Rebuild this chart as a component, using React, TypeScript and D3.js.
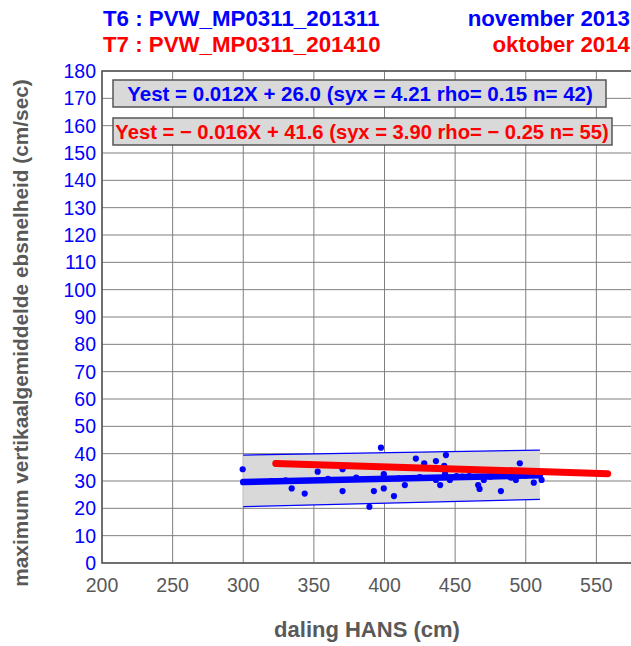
import React from "react";
import * as d3 from "d3";

const xTicks = [200, 250, 300, 350, 400, 450, 500, 550, 600];
const yTicks = [0, 10, 20, 30, 40, 50, 60, 70, 80, 90, 100, 110, 120, 130, 140, 150, 160, 170, 180];

// T6 measurements (blue points)
const t6X = [299.6, 334.3, 343.5, 352.7, 370.3, 397.5, 370.3, 392.5, 399.5, 389.3, 399.5, 422.2, 428.1, 436.4, 443.5, 442.3, 414.4, 406.7, 436.4, 439.4, 442.9, 446.3, 466.3, 467.3, 470.3, 482.4, 495.8, 489.5, 493, 505.7, 511.2, 451, 320, 360, 380, 410, 425, 455, 460, 475, 500, 330];
const t6Y = [34.3, 27.3, 25.4, 33.4, 34.3, 42.2, 26.3, 26.3, 27.3, 20.5, 32.5, 38.2, 36.5, 37.3, 39.5, 35.5, 28.5, 24.5, 30.4, 28.5, 32.6, 30.4, 28.5, 27.1, 30.4, 26.3, 36.5, 31.2, 30.4, 29.4, 30.4, 31.8, 30.0, 30.8, 31.2, 31.0, 31.4, 31.6, 31.8, 31.6, 32.0, 30.2];

// confidence band of T6 regression
const bandX = [300, 510];
const bandUpper = [39.5, 41.3];
const bandLower = [20.6, 23.3];

// regression lines
const t6Line = { slope: 0.012, intercept: 26.0, xMin: 300, xMax: 510 };
const t7Line = { slope: -0.016, intercept: 41.6, xMin: 323, xMax: 558 };

const header = [
  { left: "T6 : PVW_MP0311_201311", right: "november 2013", color: "#0000ff" },
  { left: "T7 : PVW_MP0311_201410", right: "oktober 2014", color: "#ff0000" },
];
const legendTexts = [
  "Yest = 0.012X + 26.0 (syx = 4.21 rho= 0.15 n= 42)",
  "Yest = \u2212 0.016X + 41.6 (syx = 3.90 rho= \u2212 0.25 n= 55)",
];

const FONT = "'Liberation Sans', Arial, Helvetica, sans-serif";

export default function App() {
  const W = 631, H = 646;
  const left = 102, right = 667, top = 71, bottom = 563;
  const x = d3.scaleLinear().domain([200, 600]).range([left, right]);
  const y = d3.scaleLinear().domain([0, 180]).range([bottom, top]);

  const bandPts: [number, number][] = [
    ...bandX.map((v, i) => [x(v), y(bandUpper[i])] as [number, number]),
    ...bandX.slice().reverse().map((v, i) => [x(v), y(bandLower[bandX.length - 1 - i])] as [number, number]),
  ];
  const lineGen = d3.line<[number, number]>().x(d => x(d[0])).y(d => y(d[1]));
  const regPts = (l: typeof t6Line): [number, number][] => [
    [l.xMin, l.slope * l.xMin + l.intercept],
    [l.xMax, l.slope * l.xMax + l.intercept],
  ];

  return (
    <svg width={W} height={H} style={{ position: "absolute", left: 0, top: 0, fontFamily: FONT }}>
      <rect x={0} y={0} width={W} height={H} fill="#fff" />
      {/* grid */}
      {xTicks.map(t => (
        <line key={"gx" + t} x1={x(t)} x2={x(t)} y1={top} y2={bottom} stroke="#7f7f7f" strokeWidth={1} />
      ))}
      {yTicks.map(t => (
        <line key={"gy" + t} x1={left} x2={right} y1={y(t)} y2={y(t)} stroke="#7f7f7f" strokeWidth={1} />
      ))}
      <rect x={left} y={top} width={right - left} height={bottom - top} fill="none" stroke="#555" strokeWidth={1.5} />

      {/* band */}
      <polygon points={bandPts.map(p => p.join(",")).join(" ")} fill="#d9d9d9" />
      <path d={lineGen(bandX.map((v, i) => [v, bandUpper[i]] as [number, number])) || ""} stroke="#0000ff" strokeWidth={1.2} fill="none" />
      <path d={lineGen(bandX.map((v, i) => [v, bandLower[i]] as [number, number])) || ""} stroke="#0000ff" strokeWidth={1.2} fill="none" />

      {/* points */}
      {t6X.map((v, i) => (
        <circle key={"p" + i} cx={x(v)} cy={y(t6Y[i])} r={3.1} fill="#0000ff" />
      ))}

      {/* regression lines */}
      <path d={lineGen(regPts(t6Line)) || ""} stroke="#0000ff" strokeWidth={6.5} strokeLinecap="round" fill="none" />
      <path d={lineGen(regPts(t7Line)) || ""} stroke="#ff0000" strokeWidth={7} strokeLinecap="round" fill="none" />

      {/* legend boxes */}
      <rect x={113} y={80} width={493} height={27} fill="#d9d9d9" stroke="#555" strokeWidth={1.5} />
      <text x={360} y={101} textAnchor="middle" fontSize={20.5} fontWeight="bold" fill="#0000ff">{legendTexts[0]}</text>
      <rect x={113} y={118} width={499} height={27} fill="#d9d9d9" stroke="#555" strokeWidth={1.5} />
      <text x={362} y={139} textAnchor="middle" fontSize={20.2} fontWeight="bold" fill="#ff0000">{legendTexts[1]}</text>

      {/* y tick labels */}
      {yTicks.map(t => (
        <text key={"ty" + t} x={96} y={y(t) + 7} textAnchor="end" fontSize={19.5} fill="#0000ff">{t}</text>
      ))}
      {/* x tick labels (only those inside the window) */}
      {xTicks.filter(t => x(t) + 20 < W).map(t => (
        <text key={"tx" + t} x={x(t)} y={592} textAnchor="middle" fontSize={19.5} fill="#595959">{t}</text>
      ))}

      {/* axis titles */}
      <text x={367} y={637} textAnchor="middle" fontSize={22} fontWeight="bold" fill="#595959">daling HANS (cm)</text>
      <text transform={`translate(28,333) rotate(-90)`} textAnchor="middle" fontSize={20.8} fontWeight="bold" fill="#595959">
        maximum vertikaalgemiddelde ebsnelheid (cm/sec)
      </text>

      {/* header */}
      {header.map((h, i) => (
        <g key={"h" + i}>
          <text x={103} y={26 + i * 26} fontSize={22.3} fontWeight="bold" fill={h.color}>{h.left}</text>
          <text x={630} y={26 + i * 26} textAnchor="end" fontSize={22.3} fontWeight="bold" fill={h.color}>{h.right}</text>
        </g>
      ))}
    </svg>
  );
}
